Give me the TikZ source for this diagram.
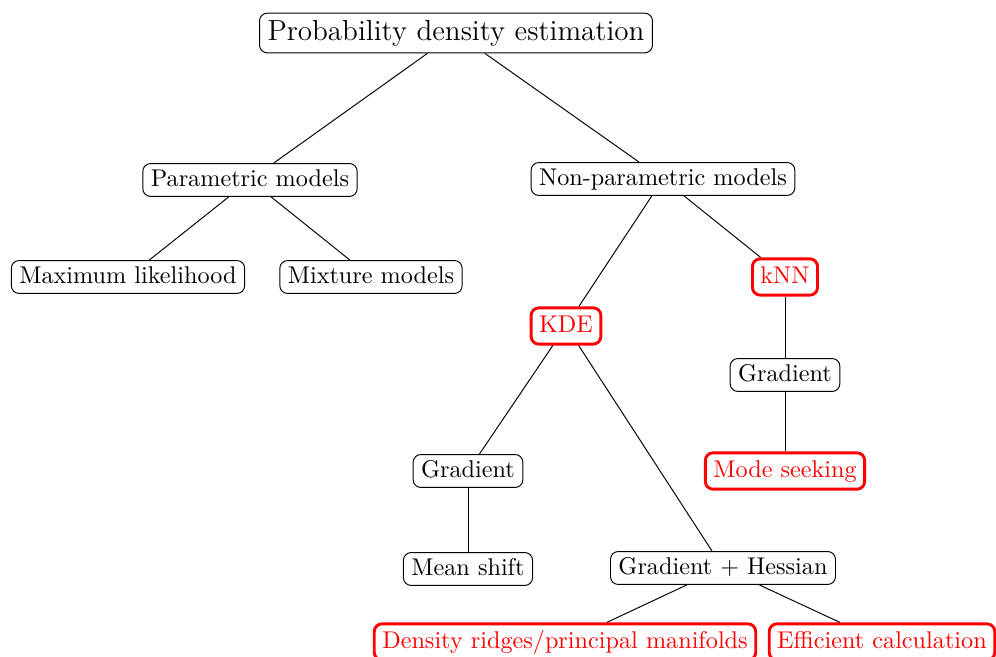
\documentclass[tikz,border=0pt]{standalone}
\begin{document}
\begin{tikzpicture}[x=0.413pt,y=-0.413pt,
  box/.style={draw,rounded corners=3.2pt,inner xsep=3.3pt,inner ysep=2.3pt,text height=7pt,text depth=2pt,line width=0.4pt},
  redbox/.style={box,draw=red,text=red,line width=1.2pt,inner ysep=3pt},
  titlebox/.style={box,font=\large,text height=8.4pt,text depth=2.4pt,inner ysep=2.8pt},
  edge/.style={line width=0.4pt}]
\useasboundingbox (0,0) rectangle (996,657);
\node[titlebox] (pde) at (456,33) {Probability density estimation};
\node[box] (par) at (250,180) {Parametric models};
\node[box] (non) at (663,179) {Non-parametric models};
\node[box] (ml) at (128,277) {Maximum likelihood};
\node[box] (mix) at (371,277) {Mixture models};
\node[redbox] (kde) at (566,326) {KDE};
\node[redbox] (knn) at (785,277) {kNN};
\node[box] (gr2) at (785,375) {Gradient};
\node[redbox] (mode) at (785,471) {Mode seeking};
\node[box] (gr1) at (468,471) {Gradient};
\node[box] (ms) at (468,569) {Mean shift};
\node[box] (gh) at (723,568) {Gradient + Hessian};
\node[redbox] (dr) at (565,642) {Density ridges/principal manifolds};
\node[redbox] (ec) at (882,642) {Efficient calculation};
\draw[edge] (pde) -- (par);
\draw[edge] (pde) -- (non);
\draw[edge] (par) -- (ml);
\draw[edge] (par) -- (mix);
\draw[edge] (non) -- (kde);
\draw[edge] (non) -- (knn);
\draw[edge] (knn) -- (gr2);
\draw[edge] (gr2) -- (mode);
\draw[edge] (kde) -- (gr1);
\draw[edge] (kde) -- (gh);
\draw[edge] (gr1) -- (ms);
\draw[edge] (gh) -- (dr);
\draw[edge] (gh) -- (ec);
\end{tikzpicture}
\end{document}
